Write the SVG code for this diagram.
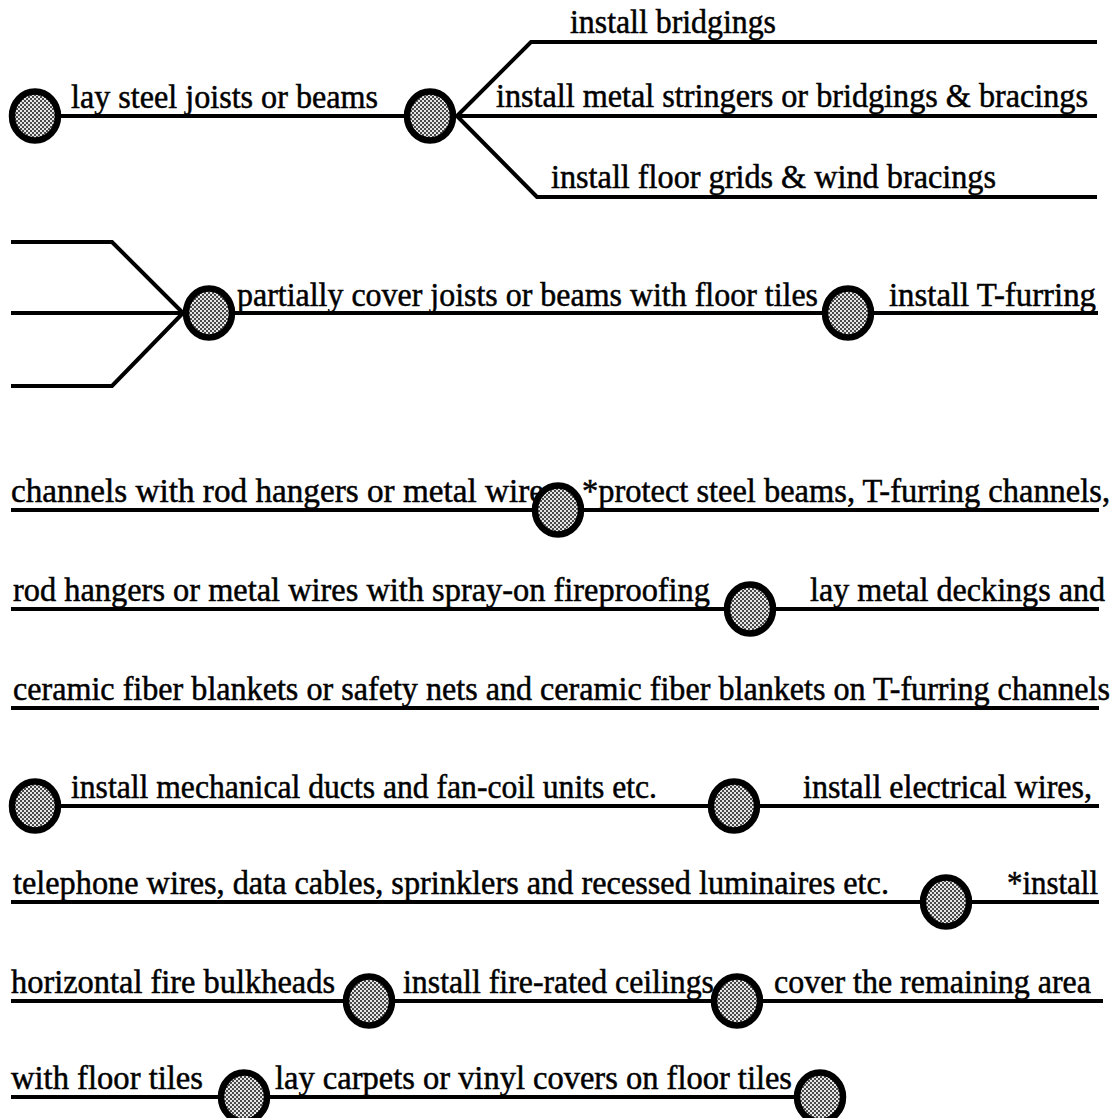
<svg xmlns="http://www.w3.org/2000/svg" width="1119" height="1118" viewBox="0 0 1119 1118">
<defs>
<pattern id="stip" width="4" height="4" patternUnits="userSpaceOnUse">
<rect width="4" height="4" fill="#e6e6e6"/>
<rect x="0" y="0" width="2" height="2" fill="#4a4a4a"/>
<rect x="2" y="2" width="2" height="2" fill="#4a4a4a"/>
</pattern>
</defs>
<style>
.c{fill:none;stroke:#000;stroke-width:4;stroke-linejoin:miter}
.n{fill:url(#stip);stroke:#000;stroke-width:6.5}
text{font-family:"Liberation Serif","Times New Roman",serif;font-size:34px;fill:#000;stroke:#000;stroke-width:0.5}
</style>
<rect width="1119" height="1118" fill="#fff"/>
<g id="connectors">
<path class="c" d="M35 116 H430"/>
<path class="c" d="M430 116 H1097"/>
<path class="c" d="M457 116 L531 42 H1097"/>
<path class="c" d="M457 116 L537 197 H1097"/>
<path class="c" d="M11 242 H112 L183 313"/>
<path class="c" d="M11 313 H209"/>
<path class="c" d="M11 386 H112 L183 313"/>
<path class="c" d="M209 313 H1098"/>
<path class="c" d="M11 510 H1099"/>
<path class="c" d="M11 609 H1099"/>
<path class="c" d="M11 708 H1099"/>
<path class="c" d="M35 806 H1099"/>
<path class="c" d="M11 902 H1099"/>
<path class="c" d="M11 1001 H1103"/>
<path class="c" d="M11 1097 H820"/>
</g>
<g id="labels">
<text x="71" y="108" textLength="307" lengthAdjust="spacingAndGlyphs">lay steel joists or beams</text>
<text x="570" y="33" textLength="206" lengthAdjust="spacingAndGlyphs">install bridgings</text>
<text x="496" y="107" textLength="592" lengthAdjust="spacingAndGlyphs">install metal stringers or bridgings &amp; bracings</text>
<text x="551" y="188" textLength="445" lengthAdjust="spacingAndGlyphs">install floor grids &amp; wind bracings</text>
<text x="237" y="306" textLength="581" lengthAdjust="spacingAndGlyphs">partially cover joists or beams with floor tiles</text>
<text x="889" y="306" textLength="207" lengthAdjust="spacingAndGlyphs">install T-furring</text>
<text x="11" y="502" textLength="546" lengthAdjust="spacingAndGlyphs">channels with rod hangers or metal wires</text>
<text x="582" y="502" textLength="528" lengthAdjust="spacingAndGlyphs">*protect steel beams, T-furring channels,</text>
<text x="13" y="601" textLength="697" lengthAdjust="spacingAndGlyphs">rod hangers or metal wires with spray-on fireproofing</text>
<text x="810" y="601" textLength="295" lengthAdjust="spacingAndGlyphs">lay metal deckings and</text>
<text x="13" y="700" textLength="1097" lengthAdjust="spacingAndGlyphs">ceramic fiber blankets or safety nets and ceramic fiber blankets on T-furring channels</text>
<text x="71" y="798" textLength="586" lengthAdjust="spacingAndGlyphs">install mechanical ducts and fan-coil units etc.</text>
<text x="803" y="798" textLength="289" lengthAdjust="spacingAndGlyphs">install electrical wires,</text>
<text x="13" y="894" textLength="876" lengthAdjust="spacingAndGlyphs">telephone wires, data cables, sprinklers and recessed luminaires etc.</text>
<text x="1007" y="894" textLength="91" lengthAdjust="spacingAndGlyphs">*install</text>
<text x="11" y="993" textLength="324" lengthAdjust="spacingAndGlyphs">horizontal fire bulkheads</text>
<text x="403" y="993" textLength="311" lengthAdjust="spacingAndGlyphs">install fire-rated ceilings</text>
<text x="774" y="993" textLength="317" lengthAdjust="spacingAndGlyphs">cover the remaining area</text>
<text x="11" y="1089" textLength="192" lengthAdjust="spacingAndGlyphs">with floor tiles</text>
<text x="275" y="1089" textLength="517" lengthAdjust="spacingAndGlyphs">lay carpets or vinyl covers on floor tiles</text>
</g>
<g id="n1"><ellipse class="n" cx="35" cy="116" rx="23" ry="24.5"/></g>
<g id="n2"><ellipse class="n" cx="430" cy="116" rx="23" ry="24.5"/></g>
<g id="n3"><ellipse class="n" cx="209" cy="313" rx="23" ry="24.5"/></g>
<g id="n4"><ellipse class="n" cx="848" cy="313" rx="23" ry="24.5"/></g>
<g id="n5"><ellipse class="n" cx="558" cy="510" rx="23" ry="24.5"/></g>
<g id="n6"><ellipse class="n" cx="750" cy="609" rx="23" ry="24.5"/></g>
<g id="n7"><ellipse class="n" cx="35" cy="806" rx="23" ry="24.5"/></g>
<g id="n8"><ellipse class="n" cx="734" cy="806" rx="23" ry="24.5"/></g>
<g id="n9"><ellipse class="n" cx="946" cy="902" rx="23" ry="24.5"/></g>
<g id="n10"><ellipse class="n" cx="369" cy="1001" rx="23" ry="24.5"/></g>
<g id="n11"><ellipse class="n" cx="737" cy="1001" rx="23" ry="24.5"/></g>
<g id="n12"><ellipse class="n" cx="244" cy="1097" rx="23" ry="24.5"/></g>
<g id="n13"><ellipse class="n" cx="820" cy="1097" rx="23" ry="24.5"/></g>
</svg>
